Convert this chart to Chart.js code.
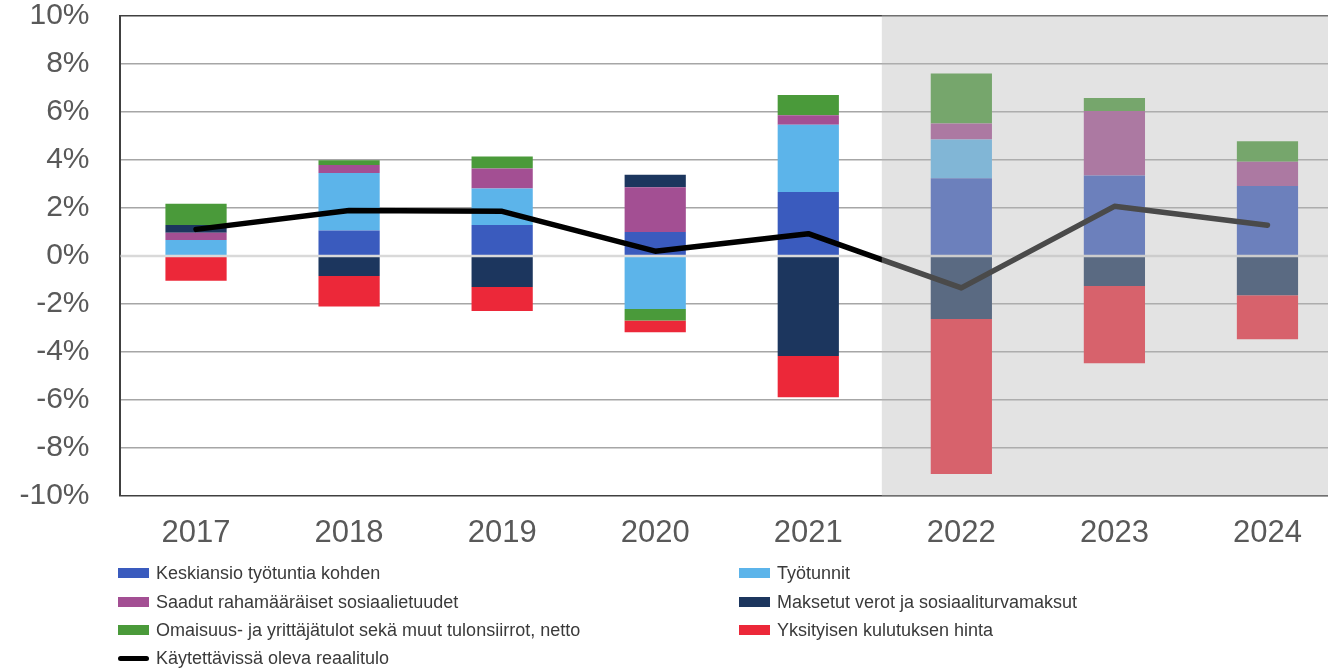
<!DOCTYPE html>
<html>
<head>
<meta charset="utf-8">
<script src="https://cdn.jsdelivr.net/npm/chart.js@4"></script>
<style>
  html, body { margin: 0; padding: 0; background: #fff; }
  body { width: 1328px; height: 670px; overflow: hidden; position: relative; font-family: "Liberation Sans", Arial, sans-serif; }
  #wrap { position: absolute; left: 0; top: 0; width: 1344px; height: 550px; }
  #legend { position: absolute; left: 0; top: 0; width: 1328px; height: 670px; pointer-events: none; }
  .item { position: absolute; height: 28px; line-height: 28px; font-size: 18px; color: #3a3a3a; white-space: nowrap; }
  .sw { position: absolute; top: 9px; width: 31px; height: 10px; }
  .sw.line { top: 12px; height: 5px; border-radius: 3px; }
  .item span.t { position: absolute; left: 38px; top: 0; }
</style>
</head>
<body>
<div id="wrap"><canvas id="chart" width="1344" height="550"></canvas></div>
<div id="legend"></div>
<script>
// categories and series (percent, contribution to real disposable income growth)
const years = ['2017', '2018', '2019', '2020', '2021', '2022', '2023', '2024'];
const keskiansio = [0, 1.06, 1.29, 1.00, 2.67, 3.24, 3.35, 2.92];
const tyotunnit = [0.67, 2.40, 1.52, -2.21, 2.80, 1.61, 0, 0];
const sosiaalietuudet = [0.30, 0.33, 0.84, 1.86, 0.39, 0.67, 2.69, 1.01];
const verot = [0.32, -0.83, -1.29, 0.53, -4.17, -2.62, -1.25, -1.64];
const omaisuustulot = [0.89, 0.20, 0.50, -0.48, 0.85, 2.08, 0.54, 0.85];
const kulutushinta = [-1.03, -1.27, -1.00, -0.49, -1.72, -6.46, -3.22, -1.83];
const reaalitulo = [1.11, 1.90, 1.86, 0.20, 0.93, -1.33, 2.07, 1.28];
const yTicks = [-10, -8, -6, -4, -2, 0, 2, 4, 6, 8, 10];
const forecastFrom = 5; // 2022 onwards shaded

const barSeries = [
  { label: 'Keskiansio työtuntia kohden', data: keskiansio, color: '#3a5bbe' },
  { label: 'Työtunnit', data: tyotunnit, color: '#5cb4ea' },
  { label: 'Saadut rahamääräiset sosiaalietuudet', data: sosiaalietuudet, color: '#a34f93' },
  { label: 'Maksetut verot ja sosiaaliturvamaksut', data: verot, color: '#1c365e' },
  { label: 'Omaisuus- ja yrittäjätulot sekä muut tulonsiirrot, netto', data: omaisuustulot, color: '#4a9a3a' },
  { label: 'Yksityisen kulutuksen hinta', data: kulutushinta, color: '#ec2839' }
];
const lineLabel = 'Käytettävissä oleva reaalitulo';

const datasets = barSeries.map(s => ({
  type: 'bar', label: s.label, data: s.data, backgroundColor: s.color,
  stack: 'bars', order: 1, categoryPercentage: 1, barPercentage: 0.4, borderWidth: 0
}));
datasets.push({
  type: 'line', label: lineLabel, data: reaalitulo, stack: 'line', order: 0,
  borderColor: '#000', borderWidth: 5.5, pointRadius: 0, tension: 0,
  borderCapStyle: 'round', borderJoinStyle: 'round', fill: false
});

const extras = {
  id: 'extras',
  beforeDatasetDraw(chart, args) {
    if (args.meta.type !== 'line') return;
    const { ctx, chartArea: a, scales: { y } } = chart;
    const y0 = y.getPixelForValue(0);
    ctx.save();
    ctx.strokeStyle = '#d9d9d9';
    ctx.lineWidth = 2.5;
    ctx.beginPath(); ctx.moveTo(a.left + 1, y0); ctx.lineTo(a.right, y0); ctx.stroke();
    ctx.restore();
  },
  afterDatasetsDraw(chart) {
    const { ctx, chartArea: a, scales: { x } } = chart;
    const x0 = (x.getPixelForValue(forecastFrom - 1) + x.getPixelForValue(forecastFrom)) / 2 - 3;
    ctx.save();
    ctx.fillStyle = 'rgba(185,185,185,0.4)';
    ctx.fillRect(x0, a.top - 1, a.right - x0, a.bottom - a.top + 1);
    ctx.restore();
  }
};

const tickFont = '"Liberation Sans", Arial, sans-serif';

new Chart(document.getElementById('chart'), {
  data: { labels: years, datasets },
  plugins: [extras],
  options: {
    responsive: false,
    animation: false,
    layout: { padding: { top: 16, left: 0, right: 0, bottom: 0 } },
    plugins: { legend: { display: false }, tooltip: { enabled: false } },
    scales: {
      x: {
        stacked: true,
        grid: { display: false, drawTicks: false },
        border: { display: false },
        ticks: { color: '#595959', padding: 19, font: { family: tickFont, size: 31 } },
        afterFit(s) { s.height = 54; s.paddingLeft = 0; s.paddingRight = 0; }
      },
      y: {
        stacked: true, min: -10, max: 10,
        afterBuildTicks(s) { s.ticks = yTicks.map(v => ({ value: v })); },
        grid: {
          drawTicks: false,
          lineWidth: 1.5,
          color: c => (c.tick.value === 10 || c.tick.value === -10) ? '#404040' : (c.tick.value === 0 ? '#d9d9d9' : '#a6a6a6')
        },
        border: { display: true, color: '#404040', width: 2 },
        ticks: {
          color: '#595959', padding: 30,
          font: { family: tickFont, size: 30, lineHeight: 1.1 },
          callback: v => v + '%'
        },
        afterFit(s) { s.width = 119.5; s.paddingTop = 0; s.paddingBottom = 0; }
      }
    }
  }
});

// legend in two columns
const legendItems = barSeries.map(s => ({ label: s.label, color: s.color, line: false }));
legendItems.push({ label: lineLabel, color: '#000', line: true });
const colX = [118, 739];
const rowY = [559, 588, 616, 644];
const legend = document.getElementById('legend');
legendItems.forEach((it, i) => {
  const col = it.line ? 0 : i % 2;
  const row = it.line ? 3 : Math.floor(i / 2);
  const d = document.createElement('div');
  d.className = 'item';
  d.style.left = colX[col] + 'px';
  d.style.top = rowY[row] + 'px';
  d.innerHTML = '<div class="sw' + (it.line ? ' line' : '') + '" style="background:' + it.color + '"></div><span class="t"></span>';
  d.querySelector('.t').textContent = it.label;
  legend.appendChild(d);
});
</script>
</body>
</html>
